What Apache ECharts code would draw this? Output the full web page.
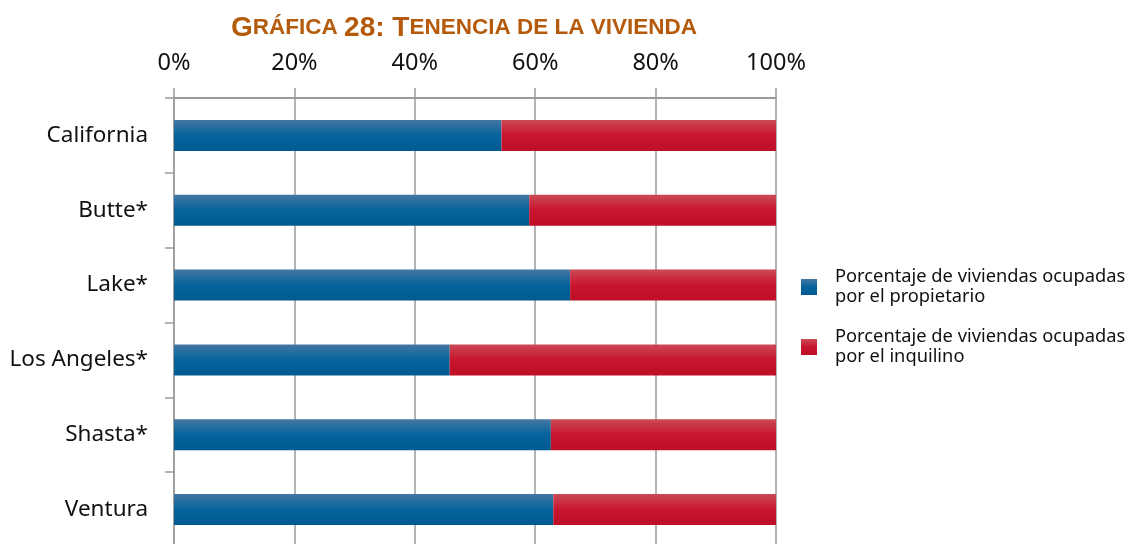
<!DOCTYPE html>
<html>
<head>
<meta charset="utf-8">
<script src="https://cdn.jsdelivr.net/npm/echarts@6/dist/echarts.min.js"></script>
<style>
html, body { margin: 0; padding: 0; background: #fff; }
#chart { width: 1129px; height: 544px; }
</style>
</head>
<body>
<div id="chart"></div>
<script>
// datos
var condados = ['California', 'Butte*', 'Lake*', 'Los Angeles*', 'Shasta*', 'Ventura'];
var propietario = [54.4, 59.0, 65.8, 45.8, 62.6, 63.0];
var inquilino = [45.6, 41.0, 34.2, 54.2, 37.4, 37.0];
var etiquetasX = ['0%', '20%', '40%', '60%', '80%', '100%'];
var nombresSeries = ['Porcentaje de viviendas ocupadas\npor el propietario',
	'Porcentaje de viviendas ocupadas\npor el inquilino'];

var myChart = echarts.init(document.getElementById('chart'));

function degradado(c1, c2, c3) {
	return {
		type : 'linear',
		x : 0, y : 0, x2 : 0, y2 : 1,
		colorStops : [ { offset : 0, color : c1 }, { offset : 0.5, color : c2 }, { offset : 1, color : c3 } ]
	};
}

var option = {
	animation : false,
	title : {
		text : '{b|G}{s|RÁFICA }{b|28: T}{s|ENENCIA DE LA VIVIENDA}',
		left : 459,
		textAlign : 'center',
		top : 9,
		textStyle : {
			rich : {
				b : { fontFamily : 'Liberation Sans', fontWeight : 'bold', fontSize : 28, color : '#B55A0A' },
				s : { fontFamily : 'Liberation Sans', fontWeight : 'bold', fontSize : 22.5, color : '#B55A0A' }
			}
		}
	},
	legend : {
		orient : 'vertical',
		left : 796,
		top : 262,
		itemWidth : 16,
		itemHeight : 16,
		itemGap : 20,
		icon : 'rect',
		textStyle : { fontFamily : 'Noto Sans', fontSize : 18.3, color : '#111', lineHeight : 20, padding : [0, 0, 0, 13] },
		data : nombresSeries
	},
	// la rejilla se sale un poco por abajo, como en el original
	grid : { left : 174, top : 98, width : 602, height : 449, containLabel : false, outerBoundsMode : 'none' },
	xAxis : {
		type : 'value',
		position : 'top',
		min : 0,
		max : 100,
		interval : 20,
		axisLine : { show : true, lineStyle : { color : '#9a9a9a', width : 2 } },
		axisTick : { show : true, length : 10, lineStyle : { color : '#9a9a9a', width : 1.5 } },
		splitLine : { show : true, lineStyle : { color : '#9a9a9a', width : 1.5 } },
		axisLabel : {
			margin : 23,
			fontFamily : 'Noto Sans', fontSize : 23.5, color : '#111',
			formatter : function(v) { return etiquetasX[v / 20]; }
		}
	},
	yAxis : {
		type : 'category',
		inverse : true,
		data : condados,
		axisLine : { show : true, lineStyle : { color : '#9a9a9a', width : 1.5 } },
		axisTick : { show : true, length : 9, lineStyle : { color : '#9a9a9a', width : 1.5 } },
		axisLabel : { margin : 26, fontFamily : 'Noto Sans', fontSize : 22.5, color : '#111' }
	},
	series : [ {
		name : nombresSeries[0],
		type : 'bar',
		stack : 'total',
		barWidth : 31,
		data : propietario,
		itemStyle : { color : degradado('#4477a3', '#05649c', '#005a91') }
	}, {
		name : nombresSeries[1],
		type : 'bar',
		stack : 'total',
		barWidth : 31,
		data : inquilino,
		itemStyle : { color : degradado('#cb4a55', '#c8152f', '#bd0f25') }
	} ]
};
myChart.setOption(option);
</script>
</body>
</html>
